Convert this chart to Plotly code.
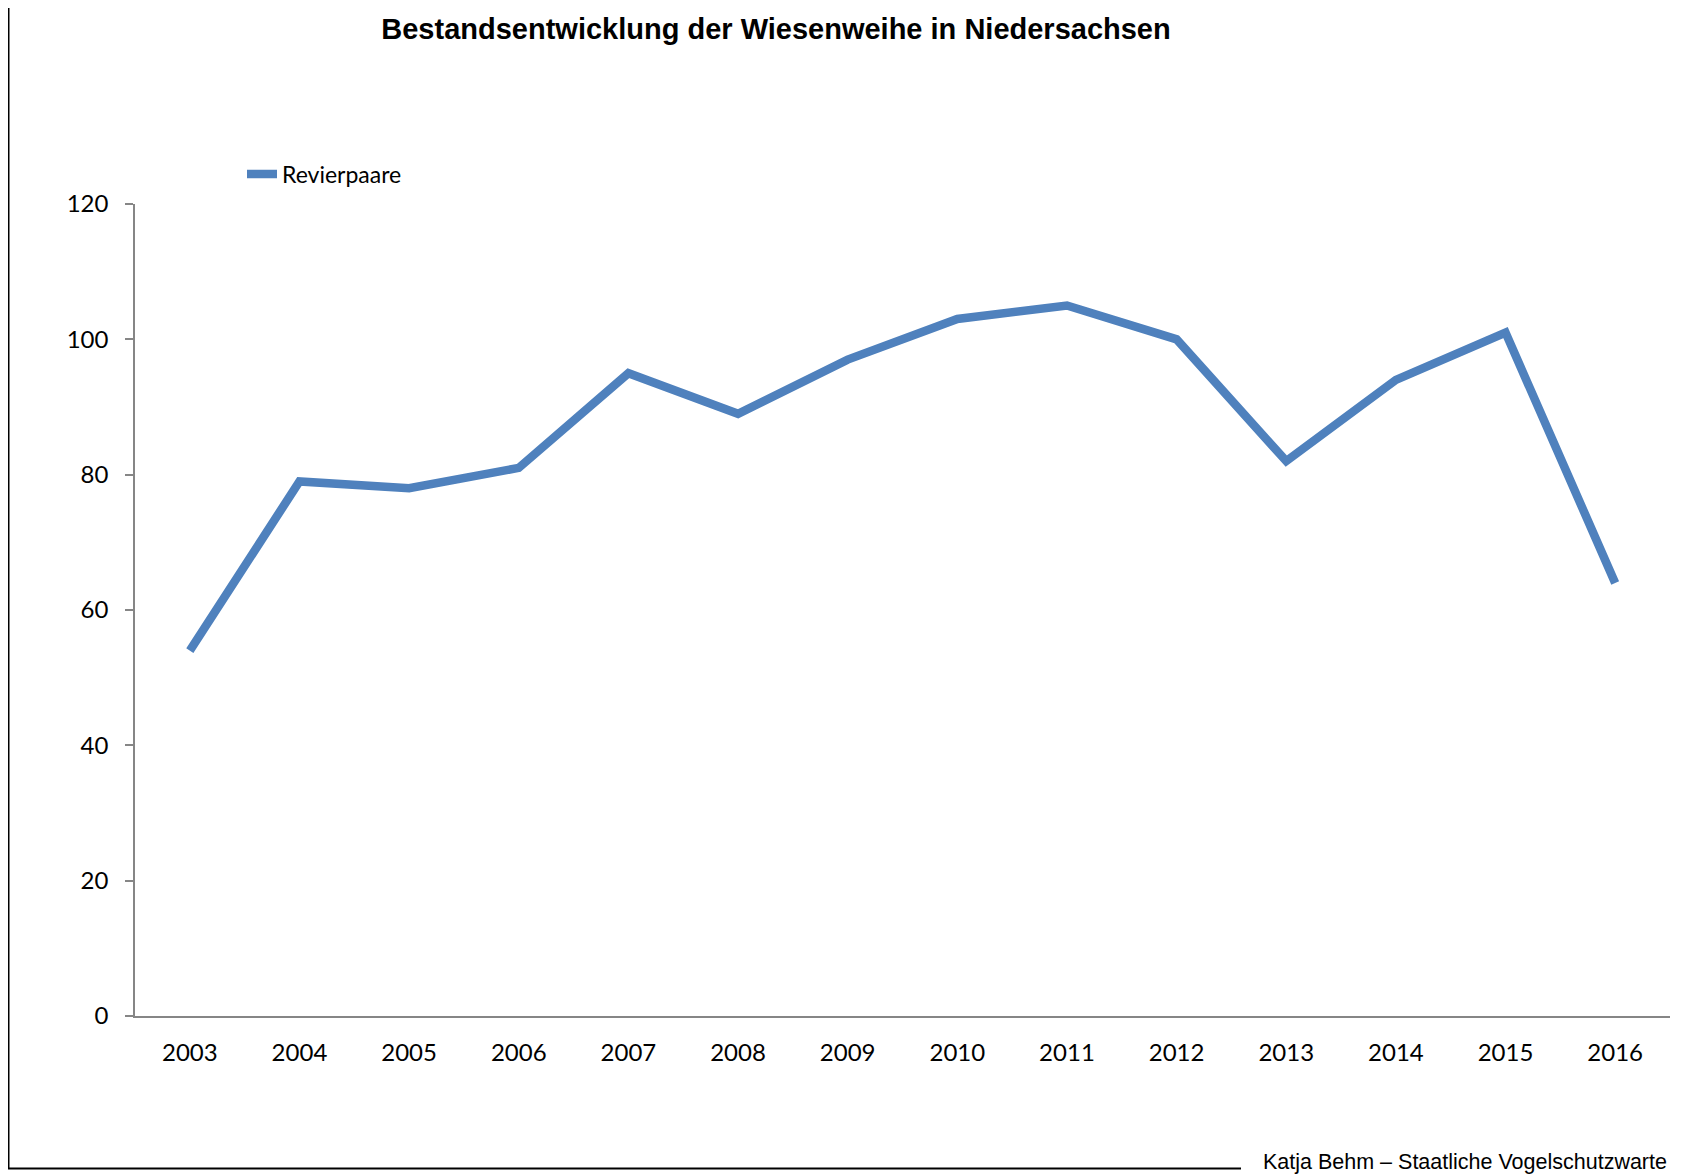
import plotly.graph_objects as go

# Revierpaare der Wiesenweihe in Niedersachsen
years = ["2003", "2004", "2005", "2006", "2007", "2008", "2009",
         "2010", "2011", "2012", "2013", "2014", "2015", "2016"]
pairs = [54, 79, 78, 81, 95, 89, 97, 103, 105, 100, 82, 94, 101, 64]
y_ticks = [0, 20, 40, 60, 80, 100, 120]

# the page body adds an 8px margin, so the figure is made smaller by that
OFF = 8
W, H = 1681 - OFF, 1175 - OFF
L, R, T, B = 127, 11, 196, 159
plot_w = W - L - R
plot_h = H - T - B


def px_x(x):
    # page pixel -> paper coordinate
    return (x - OFF - L) / plot_w


def px_y(y):
    return (H - B - (y - OFF)) / plot_h


fig = go.Figure()
fig.add_trace(go.Scatter(
    x=years, y=pairs, mode="lines", name="Revierpaare",
    line=dict(color="#4F81BD", width=8.5),
))

axis_grey = "#868686"
fig.update_layout(
    width=W, height=H,
    margin=dict(l=L, r=R, t=T, b=B),
    paper_bgcolor="white", plot_bgcolor="white",
    font=dict(family="Lato, Open Sans, sans-serif", size=24, color="black"),
    title=dict(
        text="<b>Bestandsentwicklung der Wiesenweihe in Niedersachsen</b>",
        font=dict(family="Liberation Sans, Arial, sans-serif", size=29, color="black"),
        xref="container", x=(776 - OFF) / W, xanchor="center",
        yref="container", y=1 - (29 - OFF) / H, yanchor="middle",
    ),
    showlegend=True,
    legend=dict(
        x=px_x(242), y=px_y(174), xanchor="left", yanchor="middle",
        bgcolor="rgba(0,0,0,0)", font=dict(size=23),
    ),
    xaxis=dict(
        type="category", range=[-0.5, len(years) - 0.5],
        showline=True, linecolor=axis_grey, linewidth=1.5,
        ticks="", showgrid=False, zeroline=False,
        ticklabelstandoff=14,
    ),
    yaxis=dict(
        range=[0, 120], tickvals=y_ticks,
        showline=True, linecolor=axis_grey, linewidth=1.5,
        ticks="outside", ticklen=8, tickcolor=axis_grey, tickwidth=1.5,
        showgrid=False, zeroline=False, ticklabelstandoff=12,
    ),
)

# frame lines of the original figure (left and bottom)
fig.add_shape(type="line", xref="paper", yref="paper",
              x0=px_x(8.5), x1=px_x(8.5), y0=px_y(OFF), y1=px_y(1168.5),
              line=dict(color="black", width=2))
fig.add_shape(type="line", xref="paper", yref="paper",
              x0=px_x(8), x1=px_x(1241), y0=px_y(1168.5), y1=px_y(1168.5),
              line=dict(color="black", width=2))

fig.add_annotation(
    text="Katja Behm – Staatliche Vogelschutzwarte",
    xref="paper", yref="paper", x=px_x(1669), y=px_y(1162),
    xanchor="right", yanchor="middle", showarrow=False,
    font=dict(family="Liberation Sans, Arial, sans-serif", size=21.5, color="black"),
)

fig.write_html("out.html")
